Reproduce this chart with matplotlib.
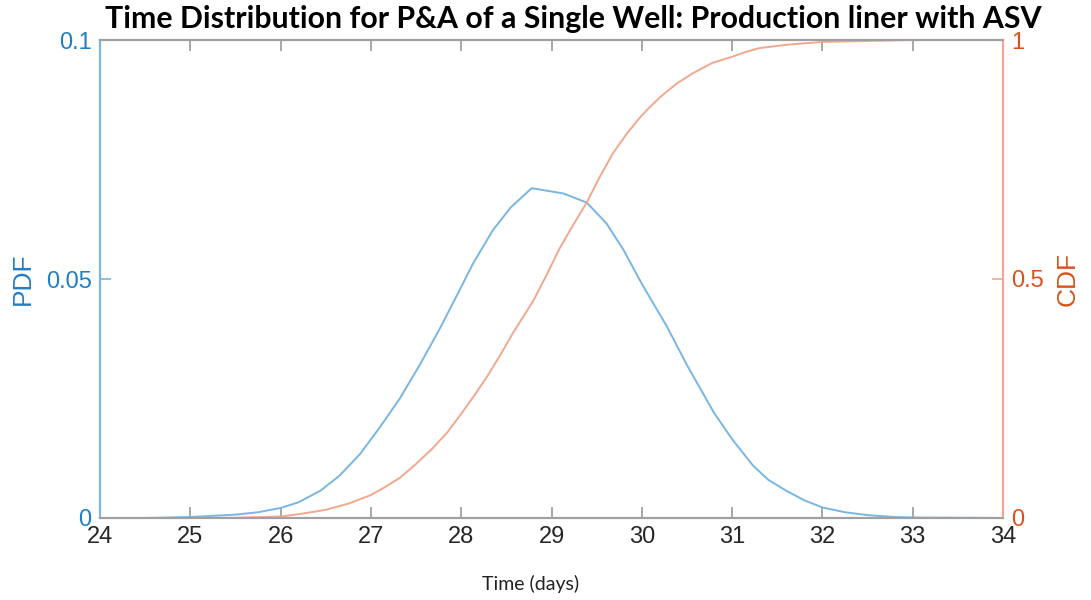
import matplotlib
matplotlib.use("Agg")
import matplotlib.pyplot as plt

# values
time_pdf = [24.0, 24.5, 25.0, 25.5, 25.75, 26.0, 26.2, 26.44, 26.65, 26.88, 27.1, 27.32,
            27.54, 27.76, 27.98, 28.13, 28.35, 28.55, 28.78, 29.13, 29.39, 29.61, 29.8,
            30.0, 30.28, 30.5, 30.65, 30.8, 31.0, 31.23, 31.4, 31.6, 31.8, 32.0, 32.25,
            32.5, 32.8, 33.0, 34.0]
pdf_vals = [0.0, 0.0, 0.0002, 0.0007, 0.0012, 0.0021, 0.0033, 0.0057, 0.0088, 0.0134, 0.019,
            0.025, 0.032, 0.0395, 0.0476, 0.0532, 0.0602, 0.065, 0.069, 0.0679, 0.066,
            0.0616, 0.056, 0.049, 0.040, 0.032, 0.027, 0.022, 0.0165, 0.011, 0.008,
            0.0057, 0.0037, 0.0022, 0.0012, 0.0006, 0.0002, 0.0001, 0.0]

time_cdf = [24.0, 25.0, 25.5, 26.0, 26.2, 26.5, 26.75, 27.0, 27.16, 27.32, 27.5, 27.69,
            27.85, 28.0, 28.14, 28.28, 28.43, 28.57, 28.8, 28.95, 29.09, 29.24, 29.39,
            29.53, 29.68, 29.83, 29.98, 30.08, 30.2, 30.38, 30.57, 30.78, 31.0, 31.15,
            31.3, 31.6, 32.0, 33.0, 34.0]
cdf_vals = [0.0, 0.0, 0.0005, 0.003, 0.008, 0.017, 0.03, 0.048, 0.065, 0.084, 0.113, 0.147,
            0.18, 0.218, 0.255, 0.294, 0.34, 0.386, 0.455, 0.51, 0.564, 0.613, 0.66,
            0.712, 0.763, 0.803, 0.838, 0.858, 0.88, 0.908, 0.931, 0.952, 0.965, 0.975,
            0.983, 0.99, 0.996, 1.0, 1.0]

x_ticks = list(range(24, 35))
pdf_ticks = [0, 0.05, 0.1]
pdf_labels = ["0", "0.05", "0.1"]
cdf_ticks = [0, 0.5, 1]
cdf_labels = ["0", "0.5", "1"]

blue_axis = "#1F7FC4"
orange_axis = "#D95319"
blue_line = "#78B6E4"
orange_line = "#F2A88E"
tick_font = "Liberation Sans"

fig = plt.figure(figsize=(10.91, 6), dpi=100)
ax = fig.add_axes([0.0917, 0.1367, 0.8276, 0.7966])
ax2 = ax.twinx()

ax.plot(time_pdf, pdf_vals, color=blue_line, lw=1.4)
ax2.plot(time_cdf, cdf_vals, color=orange_line, lw=1.4)

ax.set_xlim(24, 34)
ax.set_ylim(0, 0.1)
ax2.set_ylim(0, 1)

ax.set_xticks(x_ticks)
ax.set_yticks(pdf_ticks)
ax.set_yticklabels(pdf_labels)
ax2.set_yticks(cdf_ticks)
ax2.set_yticklabels(cdf_labels)

ax.tick_params(axis="x", direction="in", length=8, width=1.2, color="#9a9a9a",
               labelcolor="#262626", labelsize=17, top=True, pad=6)
ax.tick_params(axis="y", direction="in", length=8, width=1.2, color=blue_line,
               labelcolor=blue_axis, labelsize=17, pad=6)
ax2.tick_params(axis="y", direction="in", length=8, width=1.2, color=orange_line,
                labelcolor=orange_axis, labelsize=17, pad=6)
for lab in ax.get_xticklabels() + ax.get_yticklabels() + ax2.get_yticklabels():
    lab.set_fontfamily(tick_font)

for a in (ax, ax2):
    a.spines["top"].set_color("#a0a0a0")
    a.spines["bottom"].set_color("#a0a0a0")
    a.spines["top"].set_linewidth(1.5)
    a.spines["bottom"].set_linewidth(1.5)
    a.spines["left"].set_color(blue_line)
    a.spines["right"].set_color(orange_line)
    a.spines["left"].set_linewidth(1.5)
    a.spines["right"].set_linewidth(1.5)

ax.set_ylabel("PDF", color=blue_axis, fontsize=19, family=tick_font, labelpad=8)
ax2.set_ylabel("CDF", color=orange_axis, fontsize=19, family=tick_font, labelpad=8)

fig.text(531 / 1091, 1 - 584 / 600, "Time (days)", ha="center", va="center",
         fontsize=14, family="Lato", color="#222222")
fig.text(573 / 1091, 1 - 19 / 600,
         "Time Distribution for P&A of a Single Well: Production liner with ASV",
         ha="center", va="center", fontsize=21.8, fontweight="bold", family="Lato",
         color="black")

fig.savefig("out.png", dpi=100)
